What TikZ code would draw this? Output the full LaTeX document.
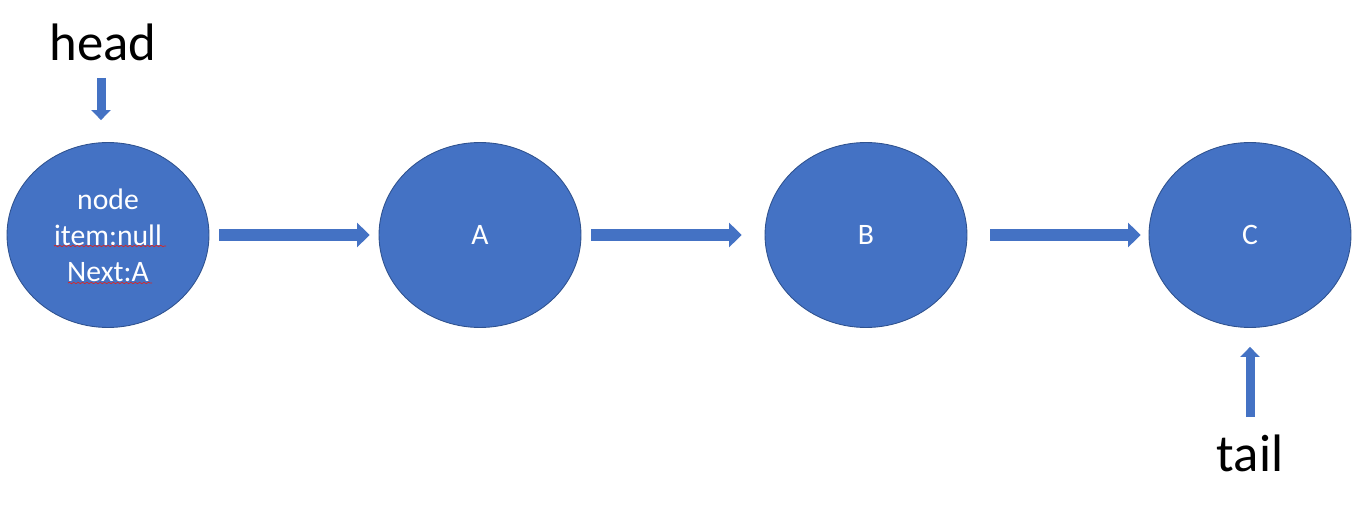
\documentclass[tikz,border=0pt]{standalone}
\usepackage{fontspec}
\setmainfont{Carlito}
\usetikzlibrary{arrows.meta,positioning,shapes.geometric,decorations.pathmorphing}
\definecolor{nodeblue}{RGB}{68,114,196}
\definecolor{edgeblue}{RGB}{47,82,143}
\definecolor{spellred}{RGB}{214,40,40}
\tikzset{
  lnode/.style={ellipse,draw=edgeblue,line width=0.5pt,fill=nodeblue,minimum width=4.04cm,minimum height=3.7cm,inner sep=0pt,text=white,align=center,font=\fontsize{16.9}{20.5}\selectfont},
  ptr/.style={font=\fontsize{30}{36}\selectfont,inner sep=0pt},
  blockarrow/.style={draw=nodeblue,line width=0.24cm,-{Triangle[length=0.25cm,width=0.48cm]}},
  smallarrow/.style={draw=nodeblue,line width=0.18cm,-{Triangle[length=0.2cm,width=0.38cm]}},
  squiggle/.style={draw=spellred,line width=0.4pt,decorate,decoration={snake,amplitude=0.4pt,segment length=2.5pt}}
}

\begin{document}
\begin{tikzpicture}[x=0.02cm,y=-0.02cm]
  \useasboundingbox (0,0) rectangle (1360,513);
  % list nodes
  \node[lnode] (n0) at (108,235) {node\\item:null\\Next:A};
  \node[lnode] (nA) at (480,235) {A};
  \node[lnode] (nB) at (866,235) {B};
  \node[lnode] (nC) at (1250,235) {C};
  % spell-check marks
  \draw[squiggle] ([shift={(-54,11)}]n0.center) -- ([shift={(58,11)}]n0.center);
  \draw[squiggle] ([shift={(-40,48)}]n0.center) -- ([shift={(44,48)}]n0.center);
  % next links
  \draw[blockarrow] ([xshift=0.2cm]n0.east) -- ([xshift=-0.18cm]nA.west);
  \draw[blockarrow] ([xshift=0.2cm]nA.east) -- ([xshift=-0.46cm]nB.west);
  \draw[blockarrow] ([xshift=0.46cm]nB.east) -- ([xshift=-0.16cm]nC.west);
  % head and tail
  \node[ptr] (head) at (103,42) {head};
  \node[ptr] (tail) at (1250,453) {tail};
  \coordinate (headend) at ([xshift=-0.04cm]head.south |- n0.north);
  \draw[smallarrow] ([shift={(-0.04cm,-0.34cm)}]head.south) -- ([yshift=0.44cm]headend);
  \draw[smallarrow] ([yshift=0.34cm]tail.north) -- ([yshift=-0.38cm]nC.south);
\end{tikzpicture}
\end{document}
